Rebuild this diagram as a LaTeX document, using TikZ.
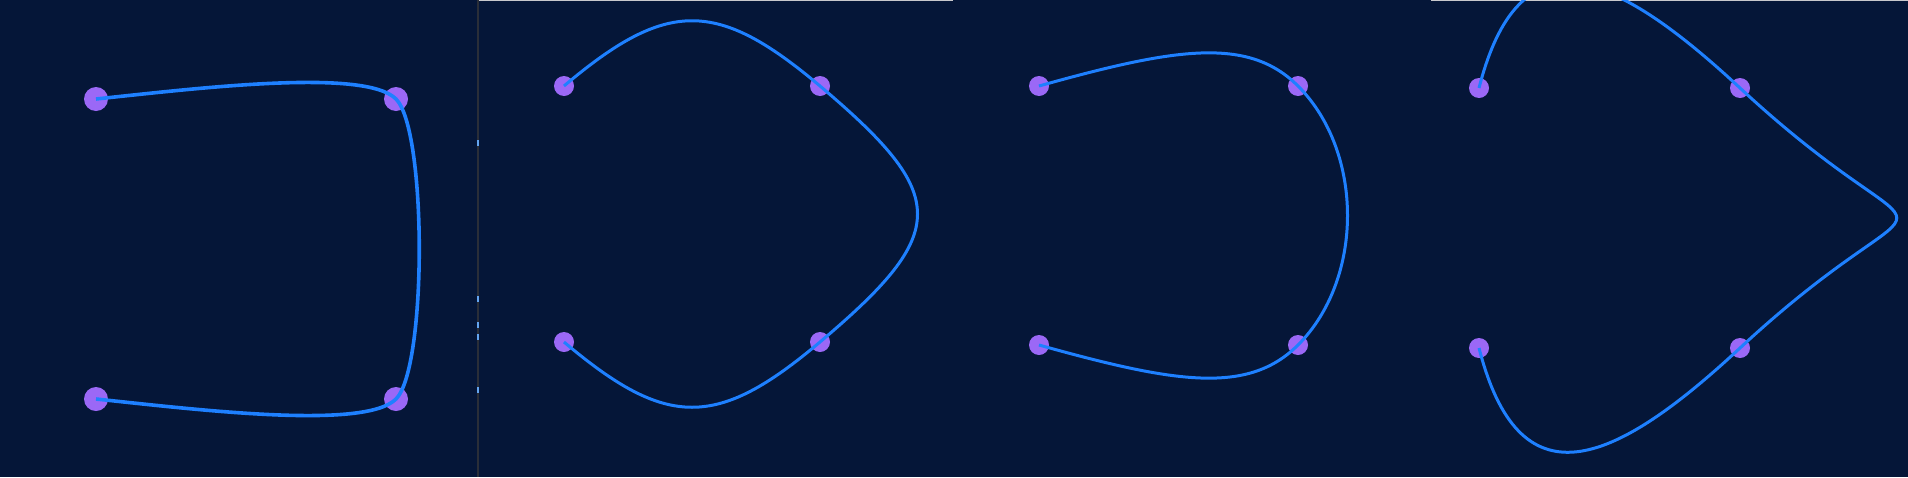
\documentclass[tikz,border=0pt]{standalone}
\definecolor{bgnavy}{RGB}{5,22,56}
\definecolor{curveblue}{RGB}{30,128,255}
\definecolor{dotpurple}{RGB}{155,104,246}
\definecolor{divgray}{RGB}{42,46,56}
\definecolor{topgray}{RGB}{200,200,204}
\definecolor{tickblue}{RGB}{100,165,240}
\tikzset{
  dotA/.style={circle,fill=dotpurple,draw=none,minimum size=24pt,inner sep=0pt},
  dotB/.style={circle,fill=dotpurple,draw=none,minimum size=20pt,inner sep=0pt},
  curveA/.style={draw=curveblue,line width=3.6pt,line cap=butt},
  curveB/.style={draw=curveblue,line width=3pt,line cap=butt},
}
\begin{document}
\begin{tikzpicture}[x=1pt,y=-1pt]
\useasboundingbox (0,0) rectangle (1908,477);
\fill[bgnavy] (0,0) rectangle (1908,477);
\clip (0,0) rectangle (1908,477);
% panel separators / edges
\fill[divgray] (477,0) rectangle (479,477);
\foreach \yy in {140,296,322,334,387}{\fill[tickblue] (477,\yy) rectangle (479,\yy+6);}
\fill[topgray] (479,0) rectangle (953,1.2);
\fill[topgray] (1431,0) rectangle (1908,1.2);
% panel 1
\node[dotA] (a1) at (96,99) {};
\node[dotA] (b1) at (396,99) {};
\node[dotA] (c1) at (96,399) {};
\node[dotA] (d1) at (396,399) {};
\path[curveA] (a1.center) .. controls (200,88) and (365,68) .. (b1.center)
  .. controls (427,130) and (427,368) .. (d1.center)
  .. controls (365,430) and (200,410) .. (c1.center);
% panel 2
\node[dotB] (a2) at (564,86) {};
\node[dotB] (b2) at (820,86) {};
\node[dotB] (c2) at (564,342) {};
\node[dotB] (d2) at (820,342) {};
\path[curveB] (a2.center) .. controls (667,-1) and (717,-1) .. (b2.center)
  .. controls (950,196) and (950,232) .. (d2.center)
  .. controls (717,429) and (667,429) .. (c2.center);
% panel 3
\node[dotB] (a3) at (1039,86) {};
\node[dotB] (b3) at (1298,86) {};
\node[dotB] (c3) at (1039,345) {};
\node[dotB] (d3) at (1298,345) {};
\path[curveB] (a3.center) .. controls (1175,48) and (1248,36) .. (b3.center)
  .. controls (1364,152) and (1364,279) .. (d3.center)
  .. controls (1248,395) and (1175,383) .. (c3.center);
% panel 4
\node[dotB] (a4) at (1479,88) {};
\node[dotB] (b4) at (1740,88) {};
\node[dotB] (c4) at (1479,348) {};
\node[dotB] (d4) at (1740,348) {};
\path[curveB] (a4.center) .. controls (1519,-68) and (1610,-33) .. (b4.center)
  .. controls (1949,282) and (1949,154) .. (d4.center)
  .. controls (1610,469) and (1519,504) .. (c4.center);
\end{tikzpicture}
\end{document}
